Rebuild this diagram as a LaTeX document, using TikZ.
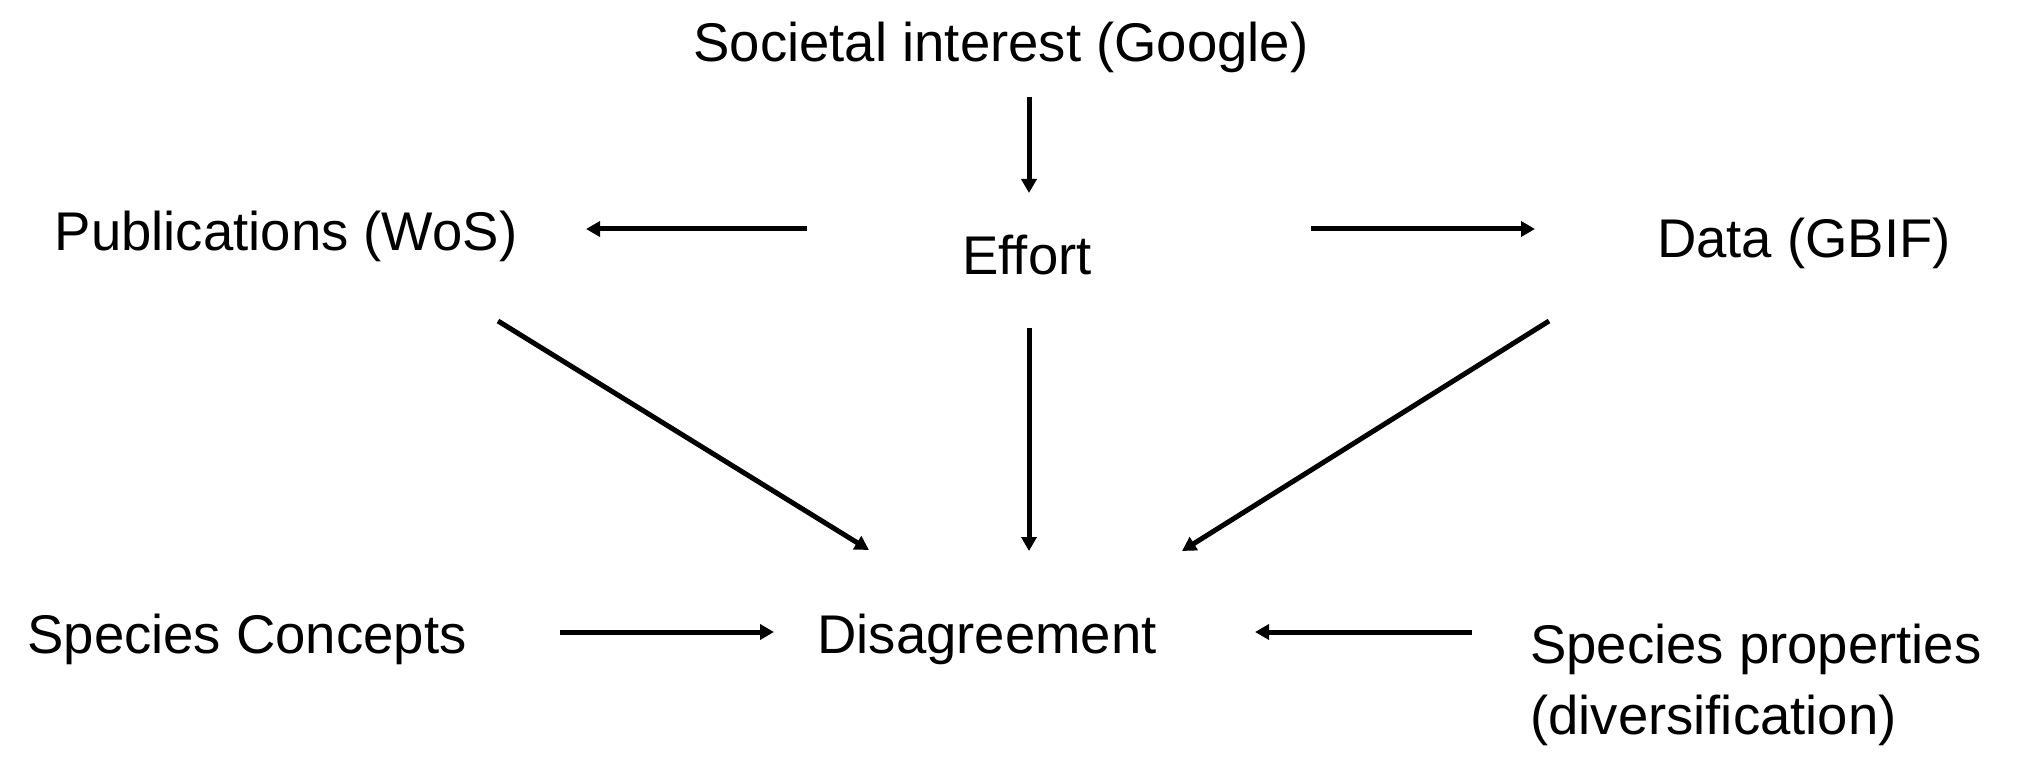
\documentclass[tikz,border=0pt]{standalone}
\usepackage{fontspec}
\setmainfont{Liberation Sans}
\usetikzlibrary{arrows.meta}
\begin{document}
\begin{tikzpicture}[x=1pt,y=-1pt,
  lbl/.style={inner sep=0pt,font=\fontsize{54.5}{71}\selectfont,anchor=base},
  arr/.style={line width=5pt,-{Triangle[length=14pt,width=15pt]}}]
\useasboundingbox (0,0) rectangle (2019,762);
\node[lbl] (soc) at (1001,62) {Societal interest (Google)};
\node[lbl] (pub) at (286,251) {Publications (WoS)};
\node[lbl] (eff) at (1027,274) {Effort};
\node[lbl] (data) at (1804,258) {Data (GBIF)};
\node[lbl] (sc) at (247,653) {Species Concepts};
\node[lbl] (dis) at (987,653) {Disagreement};
\node[lbl,anchor=base west,align=left] (sp) at (1530,734) {Species properties\\(diversification)};
\draw[arr] ([shift={(28,35)}]soc.base) -- ([shift={(2,-81)}]eff.base);
\draw[arr] ([shift={(-220,-45)}]eff.base) -- ([shift={(300,-22)}]pub.base);
\draw[arr] ([shift={(284,-45)}]eff.base) -- ([shift={(-269,-29)}]data.base);
\draw[arr] ([shift={(2,54)}]eff.base) -- ([shift={(42,-102)}]dis.base);
\draw[arr] ([shift={(212,70)}]pub.base) -- ([shift={(-118,-103)}]dis.base);
\draw[arr] ([shift={(-255,63)}]data.base) -- ([shift={(195,-102)}]dis.base);
\draw[arr] ([shift={(313,-21)}]sc.base) -- ([shift={(-213,-21)}]dis.base);
\draw[arr] ([shift={(-58,-102)}]sp.base west) -- ([shift={(268,-21)}]dis.base);
\end{tikzpicture}
\end{document}
